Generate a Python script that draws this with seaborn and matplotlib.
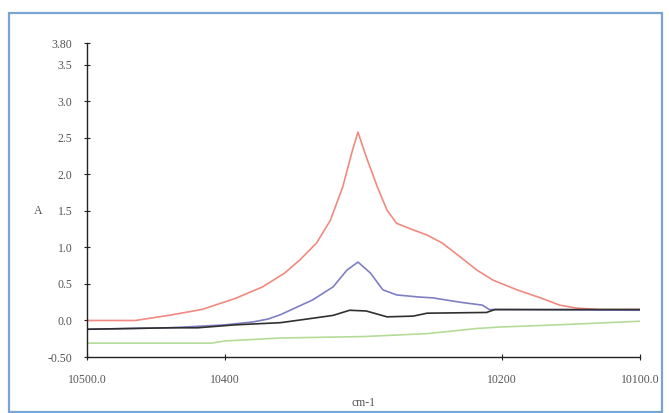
import matplotlib
matplotlib.use("Agg")
import matplotlib.pyplot as plt
import seaborn as sns
import pandas as pd
from matplotlib.patches import Rectangle

# ---- data ----
red_x = [10500, 10465, 10441, 10417, 10393, 10373, 10357, 10346, 10334, 10324, 10315, 10308, 10304,
         10298, 10290, 10283, 10276, 10264, 10254, 10243, 10230, 10218, 10206, 10189, 10172, 10158,
         10146, 10129, 10100]
red_y = [0.0, 0.0, 0.07, 0.15, 0.30, 0.46, 0.65, 0.83, 1.06, 1.37, 1.83, 2.33, 2.58,
         2.24, 1.83, 1.51, 1.33, 1.24, 1.17, 1.06, 0.87, 0.69, 0.55, 0.42, 0.31, 0.21,
         0.17, 0.15, 0.15]

blue_x = [10500, 10440, 10400, 10380, 10369, 10360, 10337, 10322, 10312, 10304, 10295, 10286,
          10276, 10259, 10250, 10230, 10214, 10209, 10100]
blue_y = [-0.12, -0.10, -0.06, -0.02, 0.02, 0.08, 0.28, 0.46, 0.69, 0.80, 0.65, 0.42,
          0.35, 0.32, 0.31, 0.25, 0.21, 0.15, 0.14]

black_x = [10500, 10440, 10420, 10393, 10360, 10337, 10322, 10310, 10298, 10283, 10264, 10254,
           10211, 10205, 10100]
black_y = [-0.12, -0.10, -0.10, -0.06, -0.03, 0.03, 0.07, 0.14, 0.13, 0.05, 0.06, 0.10,
           0.11, 0.15, 0.15]

green_x = [10500, 10410, 10400, 10360, 10300, 10254, 10218, 10202, 10160, 10100]
green_y = [-0.31, -0.31, -0.28, -0.24, -0.22, -0.18, -0.11, -0.09, -0.06, -0.01]

x_ticks = [10500, 10400, 10200, 10100]
x_tick_labels = ["10500.0", "10400", "10200", "10100.0"]
y_ticks = [-0.5, 0.0, 0.5, 1.0, 1.5, 2.0, 2.5, 3.0, 3.5, 3.8]
y_tick_labels = ["-0.50", "0.0", "0.5", "1.0", "1.5", "2.0", "2.5", "3.0", "3.5", "3.80"]

sns.set_style("white")
plt.rcParams["font.family"] = ["Liberation Serif", "DejaVu Serif"]

fig = plt.figure(figsize=(6.69, 4.13), dpi=100)
ax = fig.add_axes([87 / 669, 1 - 357 / 413, (640 - 87) / 669, (357 - 43) / 413])

series = [
    (red_x, red_y, "#f08a80"),
    (blue_x, blue_y, "#7f7fc4"),
    (black_x, black_y, "#303030"),
    (green_x, green_y, "#b4dc98"),
]
for xs, ys, col in series:
    df = pd.DataFrame({"wn": xs, "A": ys})
    sns.lineplot(data=df, x="wn", y="A", ax=ax, color=col, linewidth=1.2, estimator=None, sort=False)

ax.set_xlim(10500, 10100)
ax.set_ylim(-0.5, 3.8)
ax.set_xticks(x_ticks)
ax.set_xticklabels(x_tick_labels)
ax.set_yticks(y_ticks)
ax.set_yticklabels(y_tick_labels)

for s in ["top", "right"]:
    ax.spines[s].set_visible(False)
for s in ["left", "bottom"]:
    ax.spines[s].set_color("#222222")
    ax.spines[s].set_linewidth(1.0)

ax.tick_params(axis="both", direction="inout", length=5, width=0.8, color="#222222",
               labelsize=8.5, labelcolor="#555555")
ax.tick_params(axis="y", pad=8, left=True)
ax.tick_params(axis="x", pad=10, bottom=True)

ax.set_xlabel("cm-1", fontsize=8.5, color="#555555", labelpad=8)
ax.set_ylabel("A", fontsize=8.5, color="#555555", rotation=0, va="center", ha="center")
ax.yaxis.set_label_coords(-0.089, 0.465)

fig.patches.append(Rectangle((9 / 669, 1 / 413), (662 - 9) / 669, (412 - 13) / 413,
                             transform=fig.transFigure, fill=False, edgecolor="#7aa4d4",
                             linewidth=1.6))

fig.savefig("out.png", dpi=100)
